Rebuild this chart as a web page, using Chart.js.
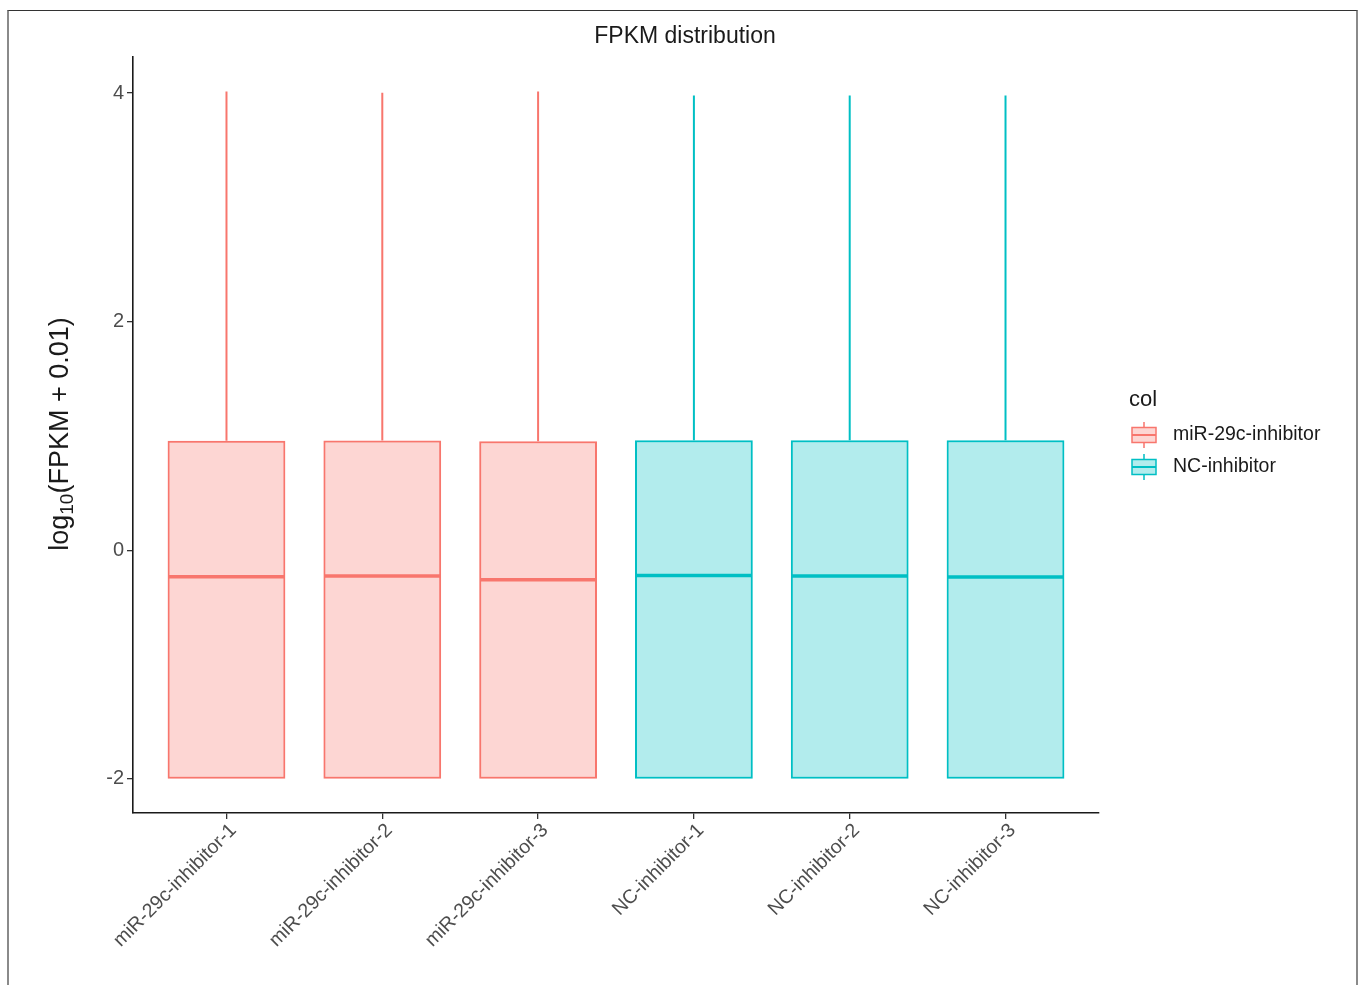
<!DOCTYPE html>
<html>
<head>
<meta charset="utf-8">
<script src="https://cdn.jsdelivr.net/npm/chart.js@4.4.1/dist/chart.umd.min.js"></script>
<style>
  html, body { margin: 0; padding: 0; background: #ffffff; }
  #wrap { position: relative; width: 1365px; height: 985px; overflow: hidden; }
  #frame {
    position: absolute; left: 7px; top: 10px; width: 1347px; height: 1000px;
    border-left: 2px solid #8a8a8a; border-right: 2px solid #8a8a8a; border-top: 1.5px solid #333;
  }
  #c { position: absolute; left: 0; top: 0; }
</style>
</head>
<body>
<div id="wrap">
  <div id="frame"></div>
  <canvas id="c" width="1365" height="985"></canvas>
</div>
<script>
// Samples and their groups
const categories = ['miR-29c-inhibitor-1', 'miR-29c-inhibitor-2', 'miR-29c-inhibitor-3',
                    'NC-inhibitor-1', 'NC-inhibitor-2', 'NC-inhibitor-3'];
const groups = ['miR-29c-inhibitor', 'miR-29c-inhibitor', 'miR-29c-inhibitor',
                'NC-inhibitor', 'NC-inhibitor', 'NC-inhibitor'];
const legendGroups = ['miR-29c-inhibitor', 'NC-inhibitor'];

// Box-plot summaries of log10(FPKM + 0.01)
const whiskerLow  = [-2, -2, -2, -2, -2, -2];
const q1          = [-2, -2, -2, -2, -2, -2];
const median      = [-0.232, -0.227, -0.258, -0.221, -0.227, -0.235];
const q3          = [0.957, 0.959, 0.954, 0.963, 0.963, 0.963];
const whiskerHigh = [4.015, 4.003, 4.015, 3.98, 3.98, 3.98];

const yTicks = [-2, 0, 2, 4];

const lineColor = { 'miR-29c-inhibitor': '#F8766D', 'NC-inhibitor': '#00BFC4' };
const fillColor = { 'miR-29c-inhibitor': 'rgba(248,118,109,0.3)', 'NC-inhibitor': 'rgba(0,191,196,0.3)' };

const FONT = '"Liberation Sans", Arial, Helvetica, sans-serif';

// Whiskers behind the boxes, medians on top of them
const boxParts = {
  id: 'boxParts',
  beforeDatasetsDraw(chart) {
    const { ctx, scales: { x, y } } = chart;
    ctx.save();
    ctx.lineWidth = 2;
    categories.forEach((c, i) => {
      const px = x.getPixelForValue(i);
      ctx.strokeStyle = lineColor[groups[i]];
      ctx.beginPath();
      ctx.moveTo(px, y.getPixelForValue(q3[i]));
      ctx.lineTo(px, y.getPixelForValue(whiskerHigh[i]));
      ctx.moveTo(px, y.getPixelForValue(q1[i]));
      ctx.lineTo(px, y.getPixelForValue(whiskerLow[i]));
      ctx.stroke();
    });
    ctx.restore();
  },
  afterDatasetsDraw(chart) {
    const { ctx, scales: { x, y } } = chart;
    const meta = chart.getDatasetMeta(0);
    ctx.save();
    ctx.lineWidth = 3.5;
    categories.forEach((c, i) => {
      const bar = meta.data[i];
      const half = bar.width / 2;
      const px = x.getPixelForValue(i);
      const py = y.getPixelForValue(median[i]);
      ctx.strokeStyle = lineColor[groups[i]];
      ctx.beginPath();
      ctx.moveTo(px - half + 1, py);
      ctx.lineTo(px + half - 1, py);
      ctx.stroke();
    });
    ctx.restore();
  }
};

// Title, y-axis title with subscript and the group legend
const decorations = {
  id: 'decorations',
  afterDraw(chart) {
    const { ctx } = chart;
    ctx.save();
    ctx.fillStyle = '#1a1a1a';
    ctx.textBaseline = 'middle';

    // Title
    ctx.font = `23px ${FONT}`;
    ctx.textAlign = 'center';
    ctx.fillText('FPKM distribution', 685, 37);

    // Y-axis title: log10(FPKM + 0.01)
    ctx.save();
    ctx.translate(61, 434);
    ctx.rotate(-Math.PI / 2);
    ctx.textAlign = 'left';
    const big = `27px ${FONT}`, small = `19px ${FONT}`;
    const p1 = 'log', p2 = '10', p3 = '(FPKM + 0.01)';
    ctx.font = big; const w1 = ctx.measureText(p1).width; const w3 = ctx.measureText(p3).width;
    ctx.font = small; const w2 = ctx.measureText(p2).width;
    let sx = -(w1 + w2 + w3) / 2;
    ctx.font = big; ctx.fillText(p1, sx, 0); sx += w1;
    ctx.font = small; ctx.fillText(p2, sx, 7); sx += w2;
    ctx.font = big; ctx.fillText(p3, sx, 0);
    ctx.restore();

    // Legend
    ctx.textAlign = 'left';
    ctx.font = `22px ${FONT}`;
    ctx.fillText('col', 1129, 400);
    ctx.font = `19.5px ${FONT}`;
    legendGroups.forEach((g, k) => {
      const cy = 435 + k * 32;
      const x0 = 1132, w = 24, h = 15;
      ctx.strokeStyle = lineColor[g];
      ctx.fillStyle = fillColor[g];
      ctx.lineWidth = 1.5;
      ctx.beginPath();
      ctx.moveTo(x0 + w / 2, cy - 13); ctx.lineTo(x0 + w / 2, cy - h / 2);
      ctx.moveTo(x0 + w / 2, cy + h / 2); ctx.lineTo(x0 + w / 2, cy + 13);
      ctx.stroke();
      ctx.fillRect(x0, cy - h / 2, w, h);
      ctx.strokeRect(x0, cy - h / 2, w, h);
      ctx.lineWidth = 2;
      ctx.beginPath(); ctx.moveTo(x0, cy); ctx.lineTo(x0 + w, cy); ctx.stroke();
      ctx.fillStyle = '#1a1a1a';
      ctx.fillText(g, 1173, cy);
    });
    ctx.restore();
  }
};

const axisGrid = { display: true, offset: false, drawOnChartArea: false, drawTicks: true, tickLength: 6, color: '#333', lineWidth: 1.3 };
const axisBorder = { display: true, color: '#1a1a1a', width: 1.6 };

new Chart(document.getElementById('c'), {
  type: 'bar',
  data: {
    datasets: [{
      data: categories.map((c, i) => ({ x: i, y: [q1[i], q3[i]] })),
      backgroundColor: groups.map(g => fillColor[g]),
      borderColor: groups.map(g => lineColor[g]),
      borderWidth: 2,
      borderSkipped: false,
      barPercentage: 0.756,
      categoryPercentage: 1
    }]
  },
  options: {
    responsive: false,
    animation: false,
    devicePixelRatio: 1,
    layout: { padding: { top: 57, right: 266, left: 0, bottom: 0 } },
    plugins: { legend: { display: false }, title: { display: false }, tooltip: { enabled: false } },
    scales: {
      x: {
        type: 'linear', min: -0.6, max: 5.6, offset: false,
        afterBuildTicks: s => { s.ticks = categories.map((c, i) => ({ value: i })); },
        afterFit: s => { s.height = 172; },
        ticks: {
          callback: v => categories[v],
          autoSkip: false, minRotation: 45, maxRotation: 45, padding: 0, labelOffset: 7,
          color: '#4d4d4d', font: { family: FONT, size: 19.5 }
        },
        grid: axisGrid,
        border: axisBorder
      },
      y: {
        min: -2.3, max: 4.316,
        afterBuildTicks: s => { s.ticks = yTicks.map(v => ({ value: v })); },
        afterFit: s => { s.width = 133; },
        ticks: { color: '#4d4d4d', padding: 3, font: { family: FONT, size: 20 } },
        grid: axisGrid,
        border: axisBorder
      }
    }
  },
  plugins: [boxParts, decorations]
});
</script>
</body>
</html>
